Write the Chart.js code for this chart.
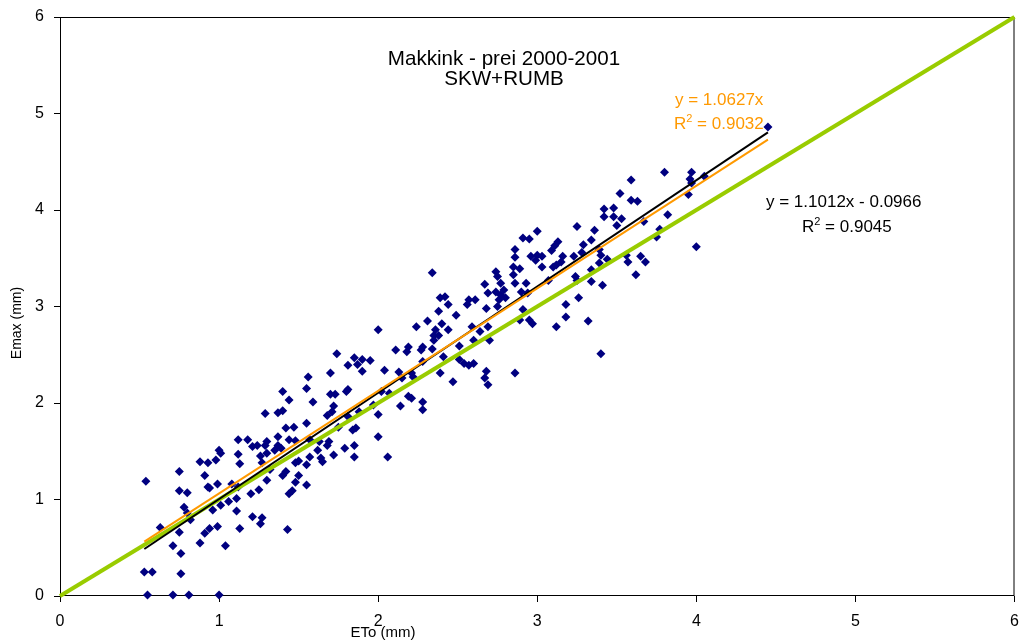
<!DOCTYPE html>
<html>
<head>
<meta charset="utf-8">
<title>Makkink - prei 2000-2001</title>
<script src="https://cdn.jsdelivr.net/npm/chart.js@4.4.0/dist/chart.umd.min.js"></script>
<style>
  html, body { margin: 0; padding: 0; background: #fff; }
  #wrap { width: 1019px; height: 642px; }
</style>
</head>
<body>
<div id="wrap"><canvas id="emaxChart" width="1019" height="642"></canvas></div>
<script>
// Daily reference evaporation (Makkink) against measured Emax, both in mm
const etoMm = [
  // ETo below 1.2
  0.54, 0.75, 0.88, 0.93, 0.98, 1.00, 1.01, 1.12, 1.12, 0.91,
  0.93, 0.94, 0.99, 0.75, 0.80, 1.08, 1.12, 0.78, 0.80, 0.63,
  0.75, 0.82, 0.91, 0.94, 0.99, 0.96, 1.01, 1.06, 1.11, 1.11,
  0.88, 1.04, 0.71, 0.76, 0.53, 0.58, 0.76, 0.55, 0.71, 0.81,
  1.00,
  // 1.1 - 2.0
  1.74, 1.85, 1.81, 1.90, 1.95, 1.87, 1.90, 1.70, 1.56, 1.55,
  1.40, 1.44, 1.59, 1.70, 1.73, 1.80, 1.81, 1.72, 1.71, 1.68,
  1.37, 1.40, 1.29, 1.55, 1.47, 1.42, 1.37, 1.44, 1.30, 1.29,
  1.18, 1.21, 1.24, 1.37, 1.39, 1.35, 1.26, 1.30, 1.13, 1.27,
  1.50, 1.48, 1.55, 1.57, 1.64, 1.65, 1.68, 1.69, 1.79, 1.85,
  1.85, 1.72, 1.63, 1.57, 1.62, 1.84, 1.86, 1.75, 1.88, 1.81,
  1.48,
  1.30, 1.40, 1.42, 1.48, 1.55, 1.25, 1.20, 1.44, 1.46, 1.21,
  1.27, 1.26, 1.13, 1.43, 1.50, 1.32,
  // 2.0 - 2.4
  2.34, 2.31, 2.36, 2.35, 2.35, 2.24, 2.00, 2.11, 2.19, 2.18,
  2.27, 2.28, 2.34, 2.21, 2.22, 2.15, 2.13, 2.04, 2.19, 2.21,
  2.28, 2.28, 2.14, 2.07, 2.02, 1.97, 2.00, 2.28, 2.00, 2.06,
  // 2.4 - 2.95
  2.86, 2.86, 2.91, 2.74, 2.75, 2.85, 2.89, 2.85, 2.67, 2.77,
  2.86, 2.93, 2.69, 2.74, 2.77, 2.79, 2.80, 2.76, 2.90, 2.68,
  2.75, 2.57, 2.61, 2.56, 2.42, 2.39, 2.44, 2.38, 2.49, 2.40,
  2.44, 2.38, 2.51, 2.51, 2.54, 2.57, 2.60, 2.64, 2.69, 2.70,
  2.60, 2.91, 2.89, 2.39, 2.47, 2.68, 2.67, 2.69, 2.86, 2.41,
  2.59,
  // above 2.95
  3.80, 3.97, 3.59, 3.97, 4.05, 3.52, 3.59, 3.63, 3.95, 3.42,
  3.48, 3.42, 3.48, 3.53, 3.50, 3.25, 3.36, 3.67, 3.82, 3.77,
  3.75, 3.00, 2.95, 3.34, 3.13, 3.11, 3.09, 3.29, 3.28, 3.39,
  3.40, 3.39, 3.44, 3.23, 3.16, 3.15, 3.12, 3.10, 3.03, 3.00,
  2.96, 2.99, 3.03, 3.07, 3.24, 3.25, 3.34, 3.34, 3.41, 3.56,
  3.57, 3.65, 3.68, 3.62, 4.00, 3.18, 3.26, 3.18, 3.12, 3.32,
  2.95, 2.97, 2.94, 3.40, 4.45, 3.96
];

const emaxMm = [
  1.19, 1.29, 1.39, 1.38, 1.41, 1.51, 1.48, 1.47, 1.62, 1.25,
  1.13, 1.12, 1.16, 1.09, 1.07, 1.16, 1.13, 0.92, 0.86, 0.71,
  0.66, 0.79, 0.65, 0.70, 0.72, 0.89, 0.94, 0.98, 1.01, 0.88,
  0.55, 0.52, 0.52, 0.44, 0.25, 0.25, 0.23, 0.01, 0.01, 0.01,
  0.01,
  2.51, 2.47, 2.39, 2.45, 2.44, 2.40, 2.33, 2.31, 2.27, 2.15,
  2.12, 2.03, 2.01, 2.09, 2.09, 2.12, 2.14, 1.97, 1.91, 1.87,
  1.90, 1.92, 1.89, 1.79, 1.75, 1.74, 1.65, 1.62, 1.60, 1.56,
  1.62, 1.55, 1.56, 1.56, 1.53, 1.51, 1.45, 1.48, 1.37, 1.38,
  1.40, 1.38, 1.36, 1.44, 1.43, 1.39, 1.56, 1.60, 1.53, 1.56,
  1.44, 1.46, 1.60, 1.62, 1.51, 1.72, 1.74, 1.75, 1.91, 1.86,
  1.61,
  1.20, 1.25, 1.29, 1.18, 1.15, 1.10, 1.06, 1.06, 1.09, 0.82,
  0.81, 0.75, 0.70, 0.69, 1.25, 1.31,
  3.35, 2.85, 2.76, 2.70, 2.65, 2.79, 2.76, 2.55, 2.58, 2.53,
  2.55, 2.58, 2.56, 2.31, 2.27, 2.26, 2.32, 2.34, 2.07, 2.05,
  2.01, 1.93, 1.97, 2.10, 2.12, 1.98, 1.88, 2.43, 1.65, 1.44,
  3.59, 3.51, 3.71, 3.36, 3.31, 3.33, 3.39, 3.41, 3.23, 3.24,
  3.24, 3.24, 3.14, 3.15, 3.12, 3.17, 3.09, 3.07, 3.15, 2.98,
  3.00, 3.07, 3.07, 3.02, 3.10, 3.09, 3.02, 2.95, 2.91, 2.82,
  2.76, 2.70, 2.59, 2.45, 2.41, 2.39, 2.41, 2.74, 2.79, 2.65,
  2.65, 2.97, 2.86, 2.31, 2.22, 2.33, 2.26, 2.19, 2.31, 2.48,
  2.79,
  4.39, 4.39, 4.31, 4.28, 4.35, 4.17, 4.10, 4.09, 4.16, 4.01,
  4.02, 3.93, 3.93, 3.91, 3.84, 3.83, 3.79, 3.88, 3.95, 3.80,
  3.72, 3.78, 3.70, 3.69, 3.67, 3.63, 3.58, 3.64, 3.56, 3.59,
  3.53, 3.45, 3.49, 3.52, 3.52, 3.46, 3.43, 3.41, 3.52, 3.53,
  3.52, 3.48, 3.41, 3.27, 3.31, 3.27, 3.38, 3.26, 3.22, 3.53,
  3.46, 3.52, 3.46, 3.33, 3.62, 3.02, 3.09, 2.89, 2.79, 2.85,
  2.86, 2.82, 3.14, 2.51, 4.86, 4.32
];

// Trendlines: [slope, intercept]
const fitLinear = [1.1012, -0.0966];
const fitOrigin = [1.0627, 0];
const fitR2 = [0.9045, 0.9032];

const axisMax = 6;
const titleLines = ['Makkink - prei 2000-2001', 'SKW+RUMB'];
const axisTitles = ['ETo (mm)', 'Emax (mm)'];

const FONT = '"Liberation Sans", Arial, sans-serif';

const scatterPoints = etoMm.map((x, i) => ({ x: x, y: emaxMm[i] }));
const xMin = Math.min(...etoMm);
const xMax = Math.max(...etoMm);

// Trendline spans the range of the measured ETo values
function fitLine(fit) {
  return [xMin, xMax].map(x => ({ x: x, y: fit[0] * x + fit[1] }));
}

function equationText(fit) {
  let txt = 'y = ' + fit[0] + 'x';
  if (fit[1] < 0) txt += ' - ' + Math.abs(fit[1]);
  else if (fit[1] > 0) txt += ' + ' + fit[1];
  return txt;
}

// Equation on the first line, R² with a raised 2 on the second
function drawEquation(ctx, x1, y1, x2, y2, fit, r2, color) {
  ctx.fillStyle = color;
  ctx.textAlign = 'left';
  ctx.textBaseline = 'alphabetic';
  ctx.font = '17px ' + FONT;
  ctx.fillText(equationText(fit), x1, y1);
  ctx.fillText('R', x2, y2);
  const wR = ctx.measureText('R').width;
  ctx.font = '11px ' + FONT;
  ctx.fillText('2', x2 + wR, y2 - 7);
  const w2 = ctx.measureText('2').width;
  ctx.font = '17px ' + FONT;
  ctx.fillText(' = ' + r2.toFixed(4), x2 + wR + w2, y2);
}

const chartDecor = {
  id: 'chartDecor',
  beforeDatasetsDraw(chart) {
    const { ctx, chartArea: a } = chart;
    ctx.save();
    ctx.strokeStyle = '#000';
    ctx.lineWidth = 1;
    ctx.strokeRect(a.left + 0.5, a.top + 0.5, a.right - a.left - 1, a.bottom - a.top - 1);
    ctx.restore();
  },
  afterDraw(chart) {
    const ctx = chart.ctx;
    ctx.save();

    // title block inside the plot
    ctx.fillStyle = '#000';
    ctx.font = '20.6px ' + FONT;
    ctx.textAlign = 'center';
    ctx.textBaseline = 'alphabetic';
    ctx.fillText(titleLines[0], 504, 65);
    ctx.fillText(titleLines[1], 504, 85);

    drawEquation(ctx, 675, 105, 674, 129, fitOrigin, fitR2[1], '#FF9900');
    drawEquation(ctx, 766, 207, 802, 232, fitLinear, fitR2[0], '#000000');

    // axis titles
    ctx.fillStyle = '#000';
    ctx.font = '15px ' + FONT;
    ctx.textAlign = 'center';
    ctx.textBaseline = 'middle';
    ctx.fillText(axisTitles[0], 383, 633);
    ctx.font = '14px ' + FONT;
    ctx.translate(17, 323);
    ctx.rotate(-Math.PI / 2);
    ctx.fillText(axisTitles[1], 0, 0);

    ctx.restore();
  }
};

const tickFont = { family: FONT, size: 16 };

new Chart(document.getElementById('emaxChart'), {
  type: 'scatter',
  data: {
    datasets: [
      {
        label: equationText(fitOrigin),
        data: fitLine(fitOrigin),
        showLine: true,
        borderColor: '#FF9900',
        borderWidth: 2,
        pointRadius: 0,
        order: 0
      },
      {
        label: equationText(fitLinear),
        data: fitLine(fitLinear),
        showLine: true,
        borderColor: '#000000',
        borderWidth: 2,
        pointRadius: 0,
        order: 1
      },
      {
        label: '1:1',
        data: [{ x: 0, y: 0 }, { x: axisMax, y: axisMax }],
        showLine: true,
        borderColor: '#99CC00',
        borderWidth: 4,
        pointRadius: 0,
        clip: false,
        order: 2
      },
      {
        label: 'Emax',
        data: scatterPoints,
        pointStyle: 'rectRot',
        pointRadius: 4.5,
        backgroundColor: '#000080',
        borderColor: '#000080',
        borderWidth: 0,
        clip: false,
        order: 3
      }
    ]
  },
  options: {
    responsive: false,
    animation: false,
    layout: { padding: { top: 17, right: 1, left: 0, bottom: 0 } },
    plugins: {
      legend: { display: false },
      tooltip: { enabled: false },
      title: { display: false }
    },
    scales: {
      x: {
        type: 'linear',
        min: 0,
        max: axisMax,
        ticks: { stepSize: 1, color: '#000', font: tickFont, padding: 10, maxRotation: 0 },
        grid: { drawOnChartArea: false, drawTicks: true, tickLength: 6, color: '#000' },
        border: { display: false },
        afterFit(scale) {
          scale.height = 46;
          scale.paddingLeft = 0;
          scale.paddingRight = 0;
        }
      },
      y: {
        type: 'linear',
        min: 0,
        max: axisMax,
        ticks: { stepSize: 1, color: '#000', font: tickFont, padding: 10 },
        grid: { drawOnChartArea: false, drawTicks: true, tickLength: 6, color: '#000' },
        border: { display: false },
        afterFit(scale) {
          scale.width = 60;
          scale.paddingTop = 0;
          scale.paddingBottom = 0;
        }
      }
    }
  },
  plugins: [chartDecor]
});
</script>
</body>
</html>
